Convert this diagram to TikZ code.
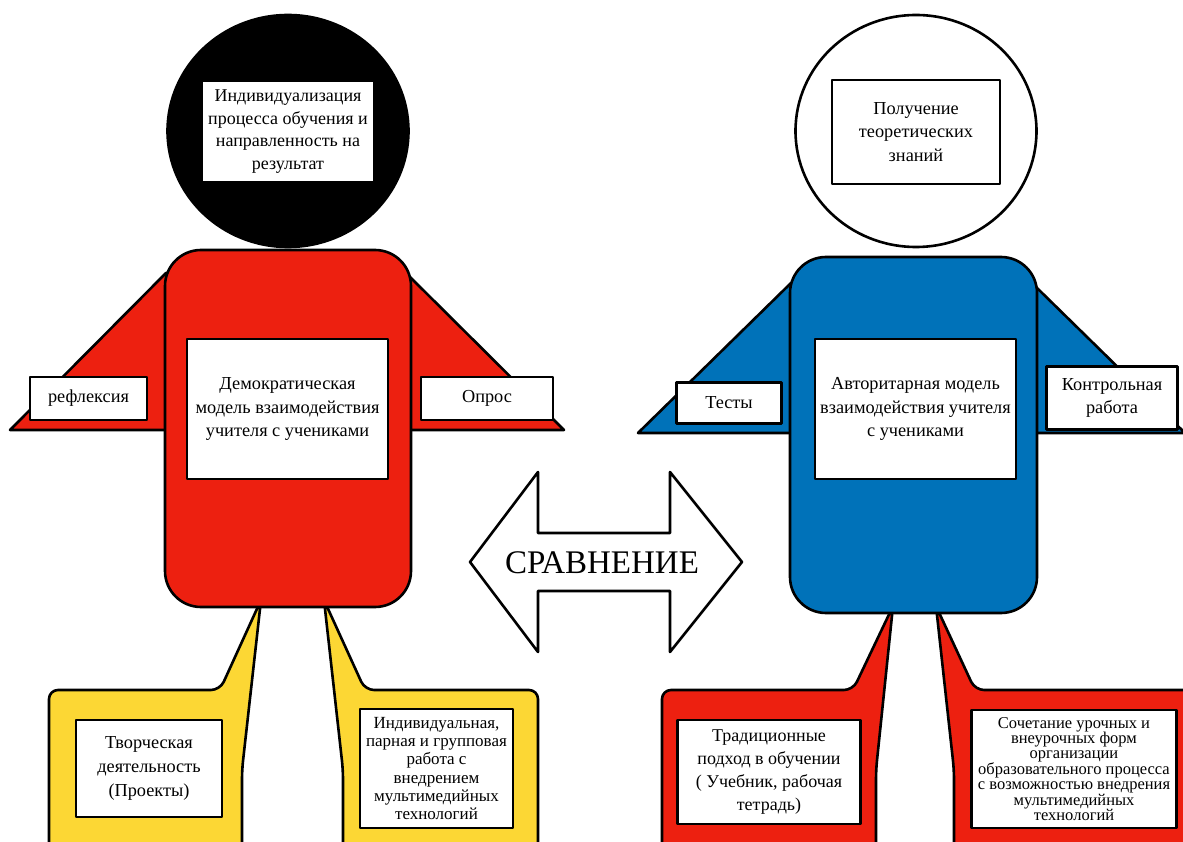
\documentclass[tikz,border=0pt]{standalone}
\usepackage{fontspec}
\setmainfont{Liberation Serif}
\definecolor{myred}{RGB}{237,32,16}
\definecolor{myblue}{RGB}{0,114,185}
\definecolor{myyellow}{RGB}{252,215,52}
\newcommand\myfs[2]{\fontsize{#1}{#2}\selectfont}
\begin{document}
\begin{tikzpicture}[x=1pt,y=-1pt,line join=round,
  outl/.style={draw=black,line width=2.6},
  wbox/.style={draw=black,line width=2.6,fill=white,align=center,inner sep=0pt},
  txt/.style={align=center,inner sep=0pt}]
\useasboundingbox (0,0) rectangle (1183,842);
\clip (0,0) rectangle (1183,842);

% ---- legs (callouts) ----
\filldraw[outl,fill=myyellow,rounded corners=9] (49,880) -- (49,690) -- (220,690) -- (261,600) -- (242,770) -- (242,880) -- cycle;
\filldraw[outl,fill=myyellow,rounded corners=9] (324,600) -- (365,690) -- (538,690) -- (538,880) -- (343,880) -- (343,770) -- cycle;
\filldraw[outl,fill=myred,rounded corners=9] (662,880) -- (662,690) -- (853,690) -- (893,606) -- (876,770) -- (876,880) -- cycle;
\filldraw[outl,fill=myred,rounded corners=9] (936,606) -- (975,690) -- (1200,690) -- (1200,880) -- (954,880) -- (954,770) -- cycle;

% ---- arms ----
\filldraw[outl,fill=myred] (166,273) -- (10,430) -- (180,430) -- (180,273) -- cycle;
\filldraw[outl,fill=myred] (410,277) -- (564,430) -- (395,430) -- (395,277) -- cycle;
\filldraw[outl,fill=myblue] (791,283) -- (638,433) -- (805,433) -- (805,283) -- cycle;
\filldraw[outl,fill=myblue] (1036,287) -- (1185,433) -- (1020,433) -- (1020,287) -- cycle;

% ---- bodies ----
\filldraw[outl,fill=myred,rounded corners=36] (165,250) rectangle (411,607);
\filldraw[outl,fill=myblue,rounded corners=36] (790,257) rectangle (1037,613);

% ---- heads ----
\filldraw[outl,fill=black] (288,131) ellipse [x radius=120.5, y radius=116];
\filldraw[outl,fill=white] (916,131) ellipse [x radius=120.5, y radius=116];

% ---- text boxes ----
\node[txt,fill=white,minimum width=170,minimum height=99,font=\myfs{18}{22.5}] (hl) at (288,131.5)
  {Индивидуализация\\процесса обучения и\\направленность на\\результат};
\node[wbox,minimum width=168,minimum height=104,font=\myfs{18.3}{23.3}] (hr) at (916,132)
  {Получение\\теоретических\\знаний};

\node[wbox,minimum width=201,minimum height=140,font=\myfs{18.3}{23.3}] (cl) at (287.5,409)
  {Демократическая\\модель взаимодействия\\учителя с учениками};
\node[wbox,minimum width=201,minimum height=140,font=\myfs{18.3}{23.3}] (cr) at (915.5,409)
  {Авторитарная модель\\взаимодействия учителя\\с учениками};

\node[wbox,minimum width=117,minimum height=43,font=\myfs{18.3}{23.3}] (refl) at (88.5,398.5) {рефлексия};
\node[wbox,minimum width=132,minimum height=43,font=\myfs{18.3}{23.3}] (opros) at (487,398.5) {Опрос};
\node[wbox,minimum width=105,minimum height=41,font=\myfs{18.3}{23.3}] (tests) at (729,403) {Тесты};
\node[wbox,minimum width=131,minimum height=63,font=\myfs{18.3}{23.3}] (kontr) at (1112,398) {Контрольная\\работа};

\node[wbox,minimum width=146,minimum height=97,font=\myfs{18.3}{24}] (tvor) at (149,768.5)
  {Творческая\\деятельность\\(Проекты)};
\node[wbox,minimum width=153,minimum height=119,font=\myfs{17}{18.3}] (indiv) at (436.5,768.5)
  {Индивидуальная,\\парная и групповая\\работа с\\внедрением\\мультимедийных\\технологий};
\node[wbox,minimum width=182.5,minimum height=104,font=\myfs{18}{22.7}] (trad) at (769,772)
  {Традиционные\\подход в обучении\\( Учебник, рабочая\\тетрадь)};
\node[wbox,minimum width=204.5,minimum height=118,font=\myfs{16.5}{15.4}] (soch) at (1074,769)
  {Сочетание урочных и\\внеурочных форм\\организации\\образовательного процесса\\с возможностью внедрения\\мультимедийных\\технологий};

% ---- comparison arrow ----
\filldraw[outl,fill=white] (470,562) -- (538,472) -- (538,533) -- (670,533) -- (670,472) -- (742,562)
  -- (670,652) -- (670,591) -- (538,591) -- (538,652) -- cycle;
\node[txt,font=\myfs{33}{36}] (cmp) at (602,563) {СРАВНЕНИЕ};
\end{tikzpicture}
\end{document}
